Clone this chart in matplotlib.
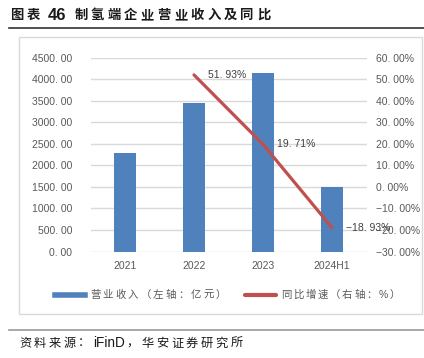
import matplotlib
matplotlib.use("Agg")
import matplotlib.pyplot as plt
from matplotlib.lines import Line2D
from matplotlib.patches import Rectangle
import numpy as np

plt.rcParams['font.family'] = ['Liberation Sans', 'Noto Sans CJK SC', 'DejaVu Sans']
plt.rcParams['axes.unicode_minus'] = True

categories = ['2021', '2022', '2023', '2024H1']
revenue = [2280, 3450, 4130, 1500]
growth_cats = ['2022', '2023', '2024H1']
growth = [51.93, 19.71, -18.93]
left_ticks = [0, 500, 1000, 1500, 2000, 2500, 3000, 3500, 4000, 4500]
right_ticks = [-30, -20, -10, 0, 10, 20, 30, 40, 50, 60]

W, H = 424, 358
fig = plt.figure(figsize=(W/100, H/100), dpi=100)
renderer = fig.canvas.get_renderer()

def fx(px): return px / W
def fy(py): return 1 - py / H

def fmt_num(v, pct=False):
    s = f'{abs(v):.2f}'.replace('.', '. ')
    if v < 0:
        s = '\u2212' + s
    return s + ('%' if pct else '')

def spaced_text(x0, y, text, size, adv, color, weight='normal', gap=1.5, asize=None):
    """Draw text with CJK characters on a fixed advance (letter-spaced)."""
    asize = asize or size
    x = x0
    i = 0
    while i < len(text):
        ch = text[i]
        if ord(ch) > 0x2E80:
            fig.text(fx(x), fy(y), ch, fontsize=size, fontweight=weight, color=color,
                     va='center', ha='left', family=['Noto Sans CJK SC'])
            x += adv
            i += 1
        else:
            j = i
            while j < len(text) and ord(text[j]) <= 0x2E80:
                j += 1
            run = text[i:j]
            sp = asize * 0.4
            if run.strip():
                lead = len(run) - len(run.lstrip())
                trail = len(run) - len(run.rstrip())
                t = fig.text(fx(x + lead * sp), fy(y), run.strip(), fontsize=asize, fontweight=weight,
                             color=color, va='center', ha='left', family=['Liberation Sans'])
                w = t.get_window_extent(renderer).width
                x += w + (lead + trail) * sp + gap
            else:
                x += len(run) * sp
            i = j
    return x

# chart box
fig.add_artist(Rectangle((fx(18.5), fy(314)), fx(421.5) - fx(18.5), fy(37) - fy(314),
                         transform=fig.transFigure, fill=False, edgecolor='#D9D9D9', lw=1))
# title line & footer line
fig.add_artist(Line2D([fx(9), fx(424)], [fy(28), fy(28)], transform=fig.transFigure, color='#333333', lw=1.2))
fig.add_artist(Line2D([fx(9), fx(424)], [fy(330), fy(330)], transform=fig.transFigure, color='#999999', lw=1.2))

spaced_text(10, 15, '图表 46 制氢端企业营业收入及同比', 9.6, 16.6, '#1a1a1a', weight='bold', gap=3, asize=12)
spaced_text(19, 343, '资料来源：iFinD，华安证券研究所', 8.8, 14.8, '#1a1a1a', gap=2, asize=9.8)

ax = fig.add_axes([fx(90.5), fy(251.5), fx(366.5) - fx(90.5), fy(57.5) - fy(251.5)])
x = np.arange(len(categories))
ax.bar(x, revenue, width=0.31, color='#4F81BD', zorder=3)
ax.set_xlim(-0.5, len(categories) - 0.5)
ax.set_ylim(0, 4500)
ax.set_yticks(left_ticks)
ax.set_yticklabels([fmt_num(v) for v in left_ticks])
ax.set_xticks(x)
ax.set_xticklabels(categories)
ax.grid(axis='y', color='#D9D9D9', lw=1, zorder=0)
for s in ax.spines.values():
    s.set_visible(False)
ax.tick_params(axis='both', length=0, labelsize=7.5, colors='#595959')
ax.tick_params(axis='y', pad=13)
ax.tick_params(axis='x', pad=7)

ax2 = ax.twinx()
ax2.set_ylim(-30, 60)
ax2.set_yticks(right_ticks)
ax2.set_yticklabels([fmt_num(v, pct=True) for v in right_ticks])
for s in ax2.spines.values():
    s.set_visible(False)
ax2.tick_params(axis='y', length=0, labelsize=7.5, colors='#595959', pad=6.5)
gx = [categories.index(c) for c in growth_cats]
ax2.plot(gx, growth, color='#C0504D', lw=2.3, zorder=4, solid_capstyle='round')
for xi, v in zip(gx, growth):
    ax2.annotate(fmt_num(v, pct=True), (xi, v), xytext=(10, 0),
                 textcoords='offset points', va='center', ha='left', fontsize=7.5, color='#404040')

# legend
fig.add_artist(Line2D([fx(55), fx(85)], [fy(295), fy(295)], transform=fig.transFigure, color='#4F81BD', lw=4))
spaced_text(90, 295, '营业收入（左轴：亿元）', 7.5, 12.6, '#595959')
fig.add_artist(Line2D([fx(245), fx(276)], [fy(295), fy(295)], transform=fig.transFigure, color='#C0504D', lw=3,
                      solid_capstyle='round'))
spaced_text(281, 295, '同比增速（右轴：%）', 7.5, 12.2, '#595959')

fig.savefig('out.png', dpi=100)
